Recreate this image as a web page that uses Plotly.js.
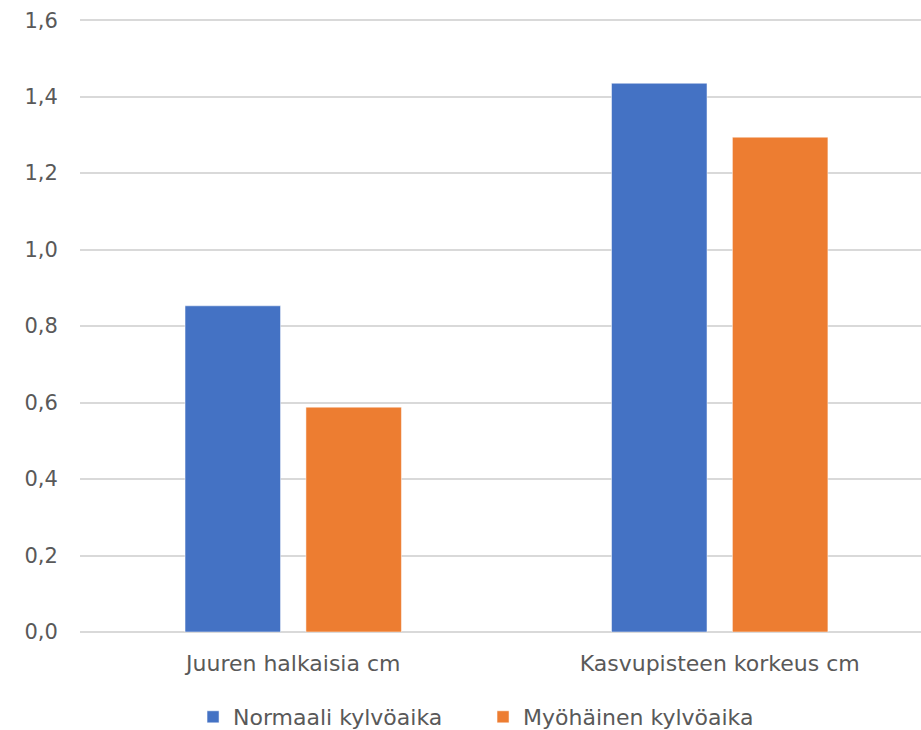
<!DOCTYPE html>
<html>
<head>
<meta charset="utf-8">
<script src="https://cdn.plot.ly/plotly-3.0.1.min.js"></script>
<style>html,body{margin:0;padding:0;background:#fff;}#chart{width:921px;height:730px;}</style>
</head>
<body>
<div id="chart"></div>
<script>
const categories = ["Juuren halkaisia cm", "Kasvupisteen korkeus cm"];
const seriesNames = ["Normaali kylvöaika", "Myöhäinen kylvöaika"];
const normaali = [0.853, 1.435];
const myohainen = [0.588, 1.294];
const yTicks = [0, 0.2, 0.4, 0.6, 0.8, 1.0, 1.2, 1.4, 1.6];

const fontFam = "DejaVu Sans, sans-serif";
const data = [
  {type: "bar", name: seriesNames[0], x: categories, y: normaali, marker: {color: "#4472C4", line: {color: "#FFFFFF", width: 0.5}}},
  {type: "bar", name: seriesNames[1], x: categories, y: myohainen, marker: {color: "#ED7D31", line: {color: "#FFFFFF", width: 0.5}}}
];
const layout = {
  width: 921, height: 730,
  margin: {l: 80, r: 0, t: 19, b: 98},
  paper_bgcolor: "#fff", plot_bgcolor: "#fff",
  separators: ", ",
  barmode: "group", bargap: 0.433, bargroupgap: 0.21,
  font: {family: fontFam, size: 22, color: "#595959"},
  xaxis: {type: "category", range: [-0.5, 1.472], showgrid: false, zeroline: false, showline: false, automargin: false,
          ticks: "outside", ticklen: 12, tickcolor: "rgba(0,0,0,0)", tickfont: {size: 22, color: "#595959"}},
  yaxis: {range: [0, 1.603], tickvals: yTicks, tickformat: ".1f", showgrid: true, gridcolor: "#D9D9D9", gridwidth: 2, automargin: false,
          zeroline: true, zerolinecolor: "#D9D9D9", zerolinewidth: 2, showline: false,
          ticks: "outside", ticklen: 17, tickcolor: "rgba(0,0,0,0)", tickfont: {size: 21, color: "#595959"}},
  showlegend: true,
  legend: {orientation: "h", x: 0.2096, xanchor: "left", xref: "container", yref: "container", y: 0.0178, yanchor: "middle",
           font: {size: 22, color: "#595959"}, itemwidth: 30, entrywidth: 245, traceorder: "normal"}
};
Plotly.newPlot("chart", data, layout, {displayModeBar: false, staticPlot: true});
</script>
</body>
</html>
